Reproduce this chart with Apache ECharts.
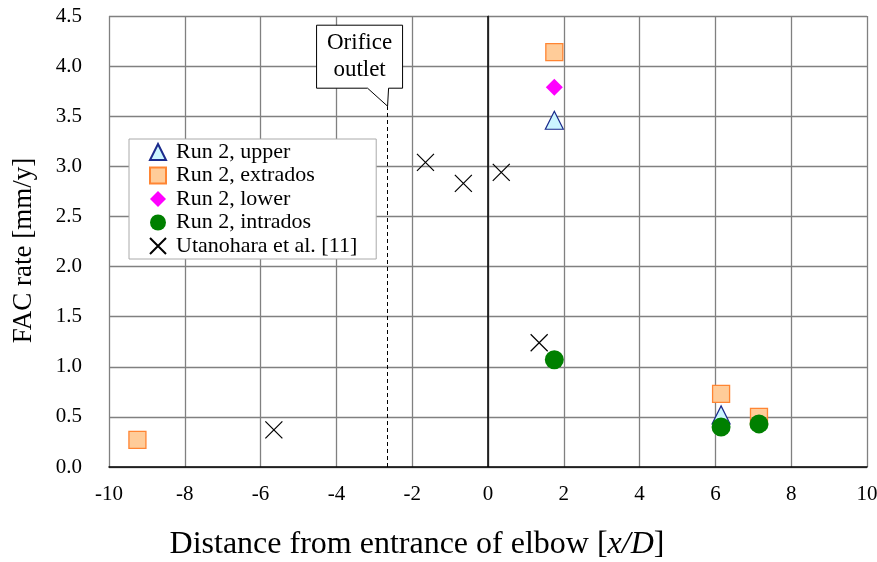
<!DOCTYPE html>
<html>
<head>
<meta charset="utf-8">
<script src="https://cdn.jsdelivr.net/npm/echarts@6/dist/echarts.min.js"></script>
<style>
html,body{margin:0;padding:0;background:#fff;}
#main{width:877px;height:562px;}
</style>
</head>
<body>
<div id="main"></div>
<script>
// 数据
var upperData = [[1.75, 3.46], [6.15, 0.52]];
var extradosData = [[1.75, 4.14], [6.15, 0.73], [7.15, 0.5], [-9.25, 0.27]];
var lowerData = [[1.75, 3.79]];
var intradosData = [[1.75, 1.07], [6.15, 0.4], [7.15, 0.43]];
var utanoharaData = [[-1.65, 3.04], [-0.65, 2.83], [0.35, 2.94], [1.35, 1.24], [-5.65, 0.37]];
var orificeX = -2.65;
var orificeTop = 3.6;
var seriesNames = ['Run 2, upper', 'Run 2, extrados', 'Run 2, lower', 'Run 2, intrados', 'Utanohara et al. [11]'];

var serif = '"Liberation Serif", "DejaVu Serif", serif';
var crossPath = 'path://M0,0L10,10M10,0L0,10';

var chart = echarts.init(document.getElementById('main'));
var option = {
	animation: false,
	grid: {left: 109, right: 10, top: 16, bottom: 95, outerBoundsMode: 'none'},
	legend: {
		orient: 'vertical',
		left: 129,
		top: 139,
		padding: [2, 19, 2, 20],
		itemGap: 1.5,
		itemWidth: 16,
		itemHeight: 16,
		backgroundColor: '#fff',
		borderColor: '#aaa',
		borderWidth: 1,
		textStyle: {fontFamily: serif, fontSize: 22, color: '#000', padding: [0, 0, 0, 5]},
		data: [
			{name: seriesNames[0], icon: 'triangle'},
			{name: seriesNames[1], icon: 'rect'},
			{name: seriesNames[2], icon: 'diamond'},
			{name: seriesNames[3], icon: 'circle'},
			{name: seriesNames[4], icon: crossPath}
		]
	},
	xAxis: {
		type: 'value',
		min: -10, max: 10, interval: 2,
		name: '{n|Distance from entrance of elbow [}{i|x/D}{n|]}',
		nameLocation: 'middle',
		nameGap: 62,
		nameTextStyle: {
			padding: [0, 142, 0, 0],
			rich: {
				n: {fontFamily: serif, fontSize: 32, color: '#000'},
				i: {fontFamily: serif, fontSize: 32, color: '#000', fontStyle: 'italic'}
			}
		},
		axisLine: {onZero: false, lineStyle: {color: '#000', width: 1.5}},
		axisTick: {show: false},
		axisLabel: {fontFamily: serif, fontSize: 21, color: '#000', margin: 17},
		splitLine: {lineStyle: {color: '#808080', width: 1.3}}
	},
	yAxis: {
		type: 'value',
		min: 0, max: 4.5, interval: 0.5,
		name: 'FAC rate [mm/y]',
		nameLocation: 'middle',
		nameGap: 72,
		nameTextStyle: {fontFamily: serif, fontSize: 27, color: '#000', padding: [0, 18, 0, 0]},
		axisLine: {show: true, lineStyle: {color: '#808080', width: 1.3}},
		axisTick: {show: false},
		axisLabel: {fontFamily: serif, fontSize: 21, color: '#000', margin: 27,
			formatter: function (v) { return v.toFixed(1); }},
		splitLine: {lineStyle: {color: '#808080', width: 1.3}}
	},
	series: [
		{
			name: seriesNames[0], type: 'scatter', symbol: 'triangle', symbolSize: 18,
			itemStyle: {color: '#ccf6ff', borderColor: '#1a2a8c', borderWidth: 1.2, opacity: 1},
			data: upperData, z: 3,
			markLine: {
				silent: true, symbol: 'none', label: {show: false},
				lineStyle: {color: '#000', type: 'solid', width: 1.5},
				data: [{xAxis: 0}]
			}
		},
		{
			name: seriesNames[1], type: 'scatter', symbol: 'rect', symbolSize: 17,
			itemStyle: {color: '#ffcc99', borderColor: '#ff8533', borderWidth: 1.3, opacity: 1},
			data: extradosData, z: 2
		},
		{
			name: seriesNames[2], type: 'scatter', symbol: 'diamond', symbolSize: 17,
			itemStyle: {color: '#ff00ff', opacity: 1},
			data: lowerData, z: 4
		},
		{
			name: seriesNames[3], type: 'scatter', symbol: 'circle', symbolSize: 19,
			itemStyle: {color: '#008000', opacity: 1},
			data: intradosData, z: 5
		},
		{
			name: seriesNames[4], type: 'scatter', symbol: crossPath, symbolSize: 17,
			itemStyle: {color: 'transparent', borderColor: '#000', borderWidth: 1.2, opacity: 1},
			data: utanoharaData, z: 6,
			markLine: {
				silent: true, symbol: 'none', label: {show: false},
				lineStyle: {color: '#000', type: [4, 3], width: 1},
				data: [[{coord: [orificeX, 0]}, {coord: [orificeX, orificeTop]}]]
			}
		}
	]
};
chart.setOption(option);

// 吹き出し (callout) anchored at the top of the orifice line
var tip = chart.convertToPixel({gridIndex: 0}, [orificeX, orificeTop]);
var bx = tip[0] - 71, by = tip[1] - 81, bw = 86, bh = 63;
chart.setOption({
	graphic: [
		{
			type: 'polygon', z: 20,
			shape: {points: [
				[bx, by], [bx + bw, by], [bx + bw, by + bh], [tip[0] + 1, by + bh],
				[tip[0], tip[1]], [tip[0] - 20, by + bh], [bx, by + bh]
			]},
			style: {fill: '#fff', stroke: '#000', lineWidth: 1}
		},
		{
			type: 'text', z: 21,
			x: bx + bw / 2, y: by + bh / 2,
			style: {text: 'Orifice\noutlet', font: '23px ' + serif, fill: '#000',
				align: 'center', verticalAlign: 'middle', lineHeight: 27}
		}
	]
});
</script>
</body>
</html>
